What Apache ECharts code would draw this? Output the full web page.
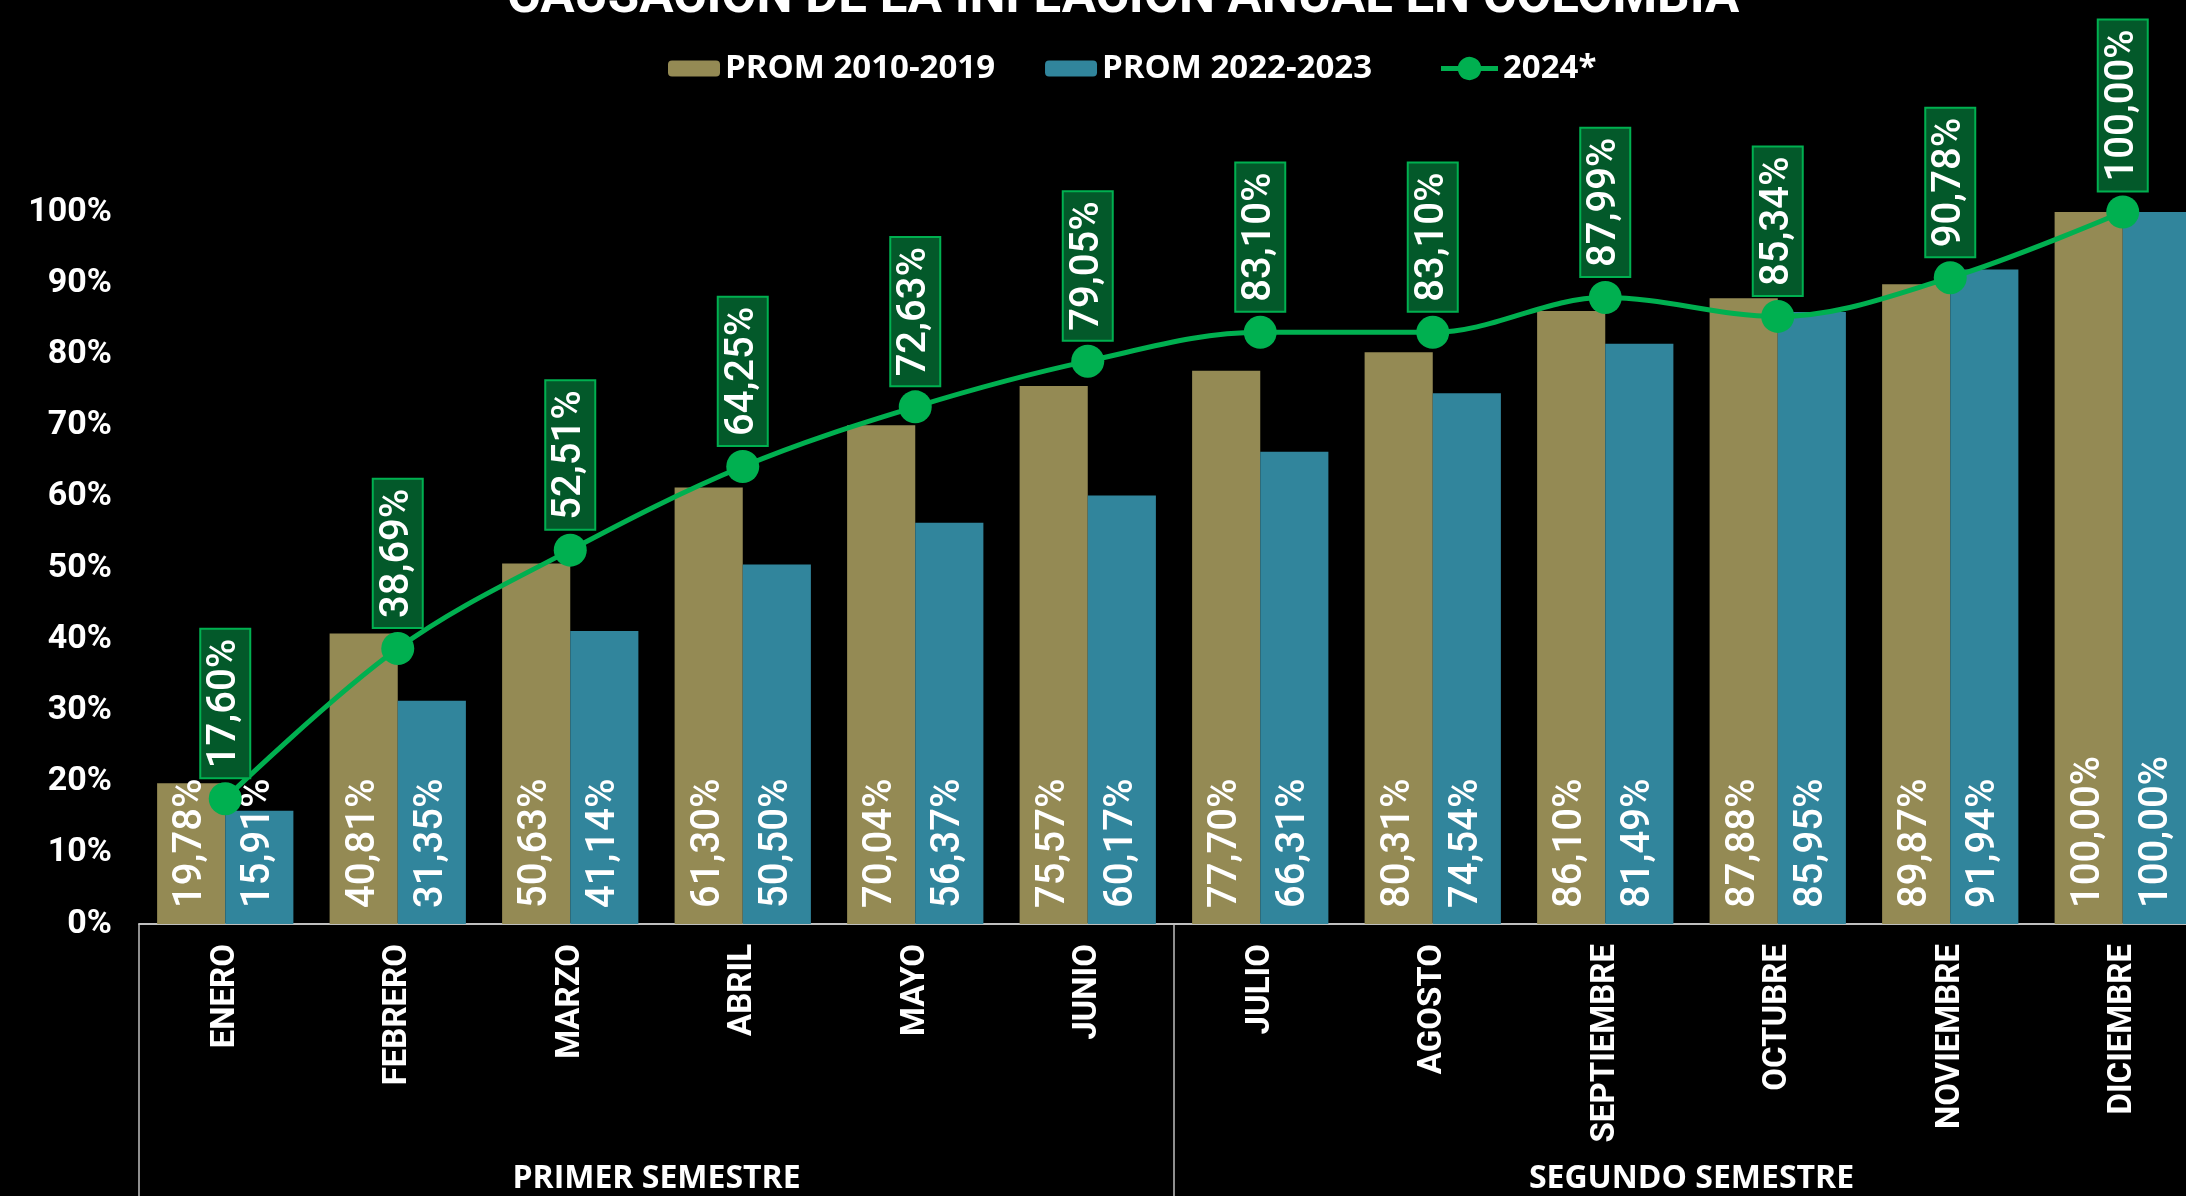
<!DOCTYPE html>
<html>
<head>
<meta charset="utf-8">
<title>Causación de la inflación anual en Colombia</title>
<script src="https://cdn.jsdelivr.net/npm/echarts@6/dist/echarts.min.js"></script>
<style>
  html, body { margin: 0; padding: 0; background: #000; }
  #chart { width: 2186px; height: 1196px; }
</style>
</head>
<body>
<div id="chart"></div>
<script>
// datos
const meses = ['ENERO', 'FEBRERO', 'MARZO', 'ABRIL', 'MAYO', 'JUNIO', 'JULIO', 'AGOSTO', 'SEPTIEMBRE', 'OCTUBRE', 'NOVIEMBRE', 'DICIEMBRE']
const semestres = ['PRIMER SEMESTRE', 'SEGUNDO SEMESTRE']
const prom2010_2019 = [19.78, 40.81, 50.63, 61.30, 70.04, 75.57, 77.70, 80.31, 86.10, 87.88, 89.87, 100.00]
const prom2022_2023 = [15.91, 31.35, 41.14, 50.50, 56.37, 60.17, 66.31, 74.54, 81.49, 85.95, 91.94, 100.00]
const anio2024 = [17.60, 38.69, 52.51, 64.25, 72.63, 79.05, 83.10, 83.10, 87.99, 85.34, 90.78, 100.00]
const yTicks = { min: 0, max: 100, interval: 10 }

const fuente = 'Roboto, "Open Sans", sans-serif'
const pct = v => v.toFixed(2).replace('.', ',') + '%'

const textoLeyenda = {
  color: '#fff',
  fontFamily: '"Open Sans", sans-serif',
  fontWeight: 'bold',
  fontSize: 33
}

// icono de la leyenda: línea con punto
const iconoLinea = 'path://M0,9.5 H17 A11.8,11.8 0 0 1 40,9.5 H57 V14.5 H40 A11.8,11.8 0 0 1 17,14.5 H0 Z'

const etiquetaBarra = {
  show: true,
  position: 'insideBottom',
  distance: 16,
  rotate: 90,
  align: 'left',
  verticalAlign: 'middle',
  color: '#fff',
  fontFamily: fuente,
  fontWeight: 500,
  fontSize: 40,
  formatter: p => pct(p.value)
}

let myChart = echarts.init(document.getElementById('chart'))

myChart.setOption({
  backgroundColor: '#000',
  animation: false,
  title: {
    text: 'CAUSACIÓN DE LA INFLACIÓN ANUAL EN COLOMBIA',
    left: 502,
    top: -31,
    textStyle: {
      color: '#fff',
      fontFamily: fuente,
      fontWeight: 'bold',
      fontSize: 51
    }
  },
  legend: [
    {
      left: 663,
      top: 47,
      itemWidth: 52,
      itemHeight: 16,
      itemGap: 50,
      selectedMode: false,
      textStyle: textoLeyenda,
      data: ['PROM 2010-2019', 'PROM 2022-2023']
    },
    {
      left: 1436,
      top: 47,
      itemWidth: 57,
      itemHeight: 24,
      selectedMode: false,
      textStyle: textoLeyenda,
      data: [{ name: '2024*', icon: iconoLinea }]
    }
  ],
  grid: {
    left: 139,
    width: 2070,
    top: 212,
    bottom: 272,
    containLabel: false,
    outerBoundsMode: 'none'
  },
  xAxis: [
    {
      type: 'category',
      data: meses,
      axisLine: { show: true, lineStyle: { color: '#bfbfbf', width: 2 } },
      axisTick: { show: false },
      axisLabel: {
        interval: 0,
        rotate: 90,
        margin: 20,
        color: '#fff',
        fontFamily: fuente,
        fontWeight: 'bold',
        fontSize: 33
      }
    },
    {
      type: 'category',
      position: 'bottom',
      data: semestres,
      axisLine: { show: false },
      axisTick: { show: true, length: 272, lineStyle: { color: '#bfbfbf', width: 1.5 } },
      axisLabel: {
        interval: 0,
        margin: 239,
        color: '#fff',
        fontFamily: '"Open Sans", sans-serif',
        fontWeight: 'bold',
        fontSize: 32
      }
    }
  ],
  yAxis: {
    type: 'value',
    min: yTicks.min,
    max: yTicks.max,
    interval: yTicks.interval,
    axisLine: { show: false },
    axisTick: { show: false },
    splitLine: { show: false },
    axisLabel: {
      margin: 27,
      color: '#fff',
      fontFamily: fuente,
      fontWeight: 'bold',
      fontSize: 34,
      formatter: '{value}%'
    }
  },
  series: [
    {
      name: 'PROM 2010-2019',
      type: 'bar',
      barGap: '0%',
      barCategoryGap: '21%',
      itemStyle: { color: '#948a54' },
      label: etiquetaBarra,
      data: prom2010_2019
    },
    {
      name: 'PROM 2022-2023',
      type: 'bar',
      barGap: '0%',
      barCategoryGap: '21%',
      itemStyle: { color: '#31859c' },
      label: etiquetaBarra,
      data: prom2022_2023
    },
    {
      name: '2024*',
      type: 'line',
      smooth: 0.35,
      symbol: 'circle',
      symbolSize: 33,
      z: 5,
      lineStyle: { color: '#00b050', width: 5 },
      itemStyle: { color: '#00b050' },
      label: {
        show: true,
        position: 'top',
        distance: 5,
        rotate: 90,
        align: 'left',
        verticalAlign: 'middle',
        color: '#fff',
        fontFamily: fuente,
        fontWeight: 500,
        fontSize: 40,
        lineHeight: 40,
        backgroundColor: '#03592a',
        borderColor: '#00b050',
        borderWidth: 2,
        padding: [4, 9, 4, 9],
        formatter: p => pct(p.value)
      },
      data: anio2024
    }
  ]
})
</script>
</body>
</html>
